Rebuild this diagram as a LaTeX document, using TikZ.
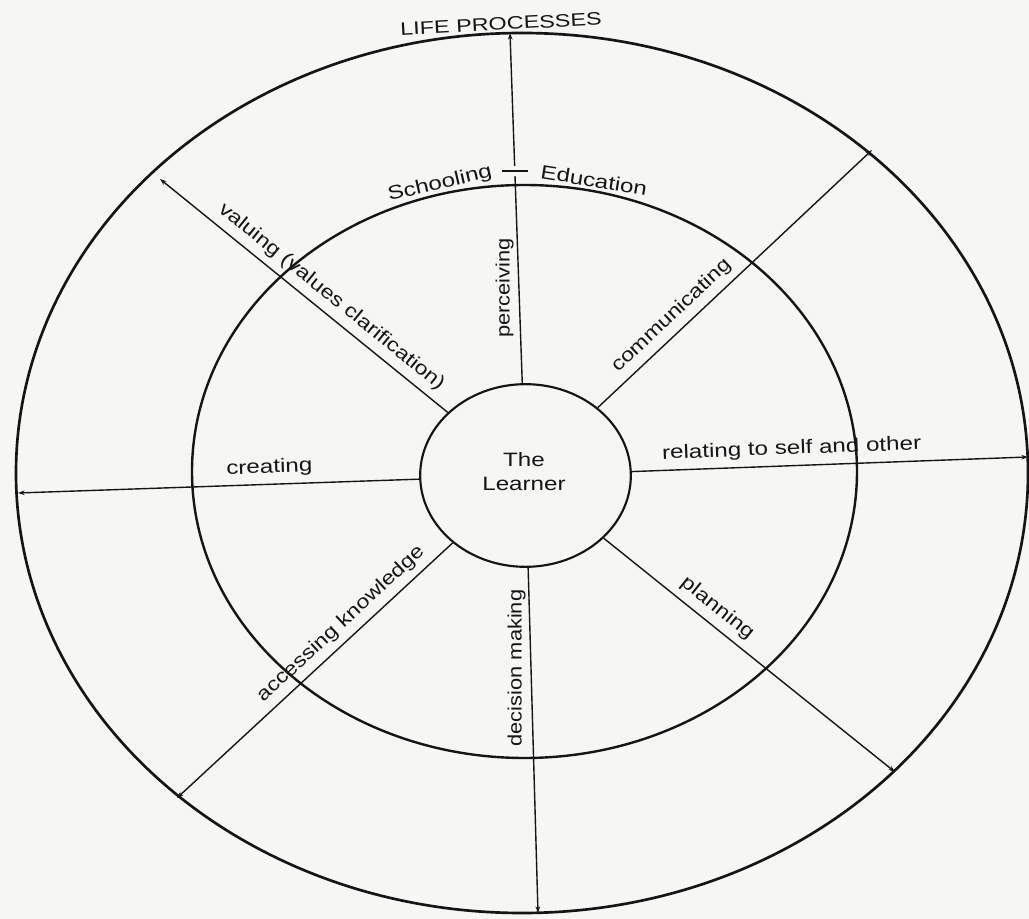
\documentclass[tikz,border=0pt]{standalone}
\usepackage{fontspec}
\setmainfont{Liberation Sans}
\newfontfamily\fv{Liberation Sans}[FakeStretch=1.13]
\newfontfamily\fh{Liberation Sans}[FakeStretch=1.25]
\newfontfamily\fd{Liberation Sans}[FakeStretch=1.2]
\newfontfamily\ft{Liberation Sans}[FakeStretch=1.3]
\usetikzlibrary{arrows.meta,shapes.geometric}
\definecolor{paper}{HTML}{F6F6F4}
\definecolor{ink}{HTML}{151515}
\begin{document}
\begin{tikzpicture}[x=0.75pt,y=0.75pt,
  lab/.style={inner sep=0pt, text=ink},
  labv/.style={lab, font=\fv\fontsize{14.5}{18}\selectfont},
  labh/.style={lab, font=\fh\fontsize{14.5}{18}\selectfont},
  labd/.style={lab, font=\fd\fontsize{14.5}{18}\selectfont},
  spoke/.style={line width=1.05pt, draw=ink, -{Stealth[length=5pt,width=3.5pt]}},
  ring/.style={line width=2pt, draw=ink}]
\fill[paper] (0,0) rectangle (1029,-919);
\useasboundingbox (0,0) rectangle (1029,-919);
% rings
\draw[ring] (522,-473) ellipse [x radius=506, y radius=440];
\draw[ring, line width=1.8pt] (524.5,-471.5) ellipse [x radius=332.5, y radius=286.5];
\node[draw=ink, ellipse, line width=1.6pt, minimum width=158pt, minimum height=137pt,
      inner sep=0pt] (L) at (525.5,-475.5) {};
\node[lab, align=center, font=\fh\fontsize{14.5}{17.5}\selectfont] (Lt) at (524,-471.5) {The\\Learner};
% spoke ends
\coordinate (tN) at (510,-33);
\coordinate (tNE) at (872,-150);
\coordinate (tE) at (1028,-457);
\coordinate (tSE) at (895,-772);
\coordinate (tS) at (538,-913);
\coordinate (tSW) at (177,-798);
\coordinate (tW) at (18,-493);
\coordinate (tNW) at (160,-179);
% spokes with their labels
\draw[spoke] (L) -- (tN);
\draw[spoke] (L) -- node[labd, sloped, above=5pt, pos=0.31] (com) {communicating} (tNE);
\draw[spoke] (L) -- node[labh, sloped, above=5pt, pos=0.405] (rel) {relating to self and other} (tE);
\draw[spoke] (L) -- node[labd, sloped, above=5pt, pos=0.355] (pla) {planning} (tSE);
\draw[spoke] (L) -- (tS);
\draw[spoke] (L) -- node[labd, sloped, above=5pt, pos=0.365] (acc) {accessing knowledge} (tSW);
\draw[spoke] (L) -- node[labh, sloped, above=5pt, pos=0.372] (cre) {creating} (tW);
\draw[spoke] (L) -- node[labd, sloped, above=5pt, pos=0.44] (val) {valuing (values clarification)} (tNW);
\node[labv, rotate=90, anchor=south] (per) at (514,-288) {perceiving};
\node[labv, rotate=90, anchor=south] (dec) at (526,-668) {decision making};
% Schooling - Education mark
\node[fill=paper, minimum width=19pt, minimum height=8pt, inner sep=0pt] (dash) at (515,-171) {};
\draw[line width=1.1pt, ink] (dash.west) -- (dash.east);
\node[lab, rotate=13, font=\fh\fontsize{14.5}{18}\selectfont] (sch) at (440,-184) {Schooling};
\node[lab, rotate=-9, font=\fh\fontsize{14.5}{18}\selectfont] (edu) at (594,-180) {Education};
% title
\node[lab, rotate=3, font=\ft\fontsize{13.5}{16}\selectfont] (lp) at (501,-24) {LIFE PROCESSES};
\end{tikzpicture}
\end{document}
